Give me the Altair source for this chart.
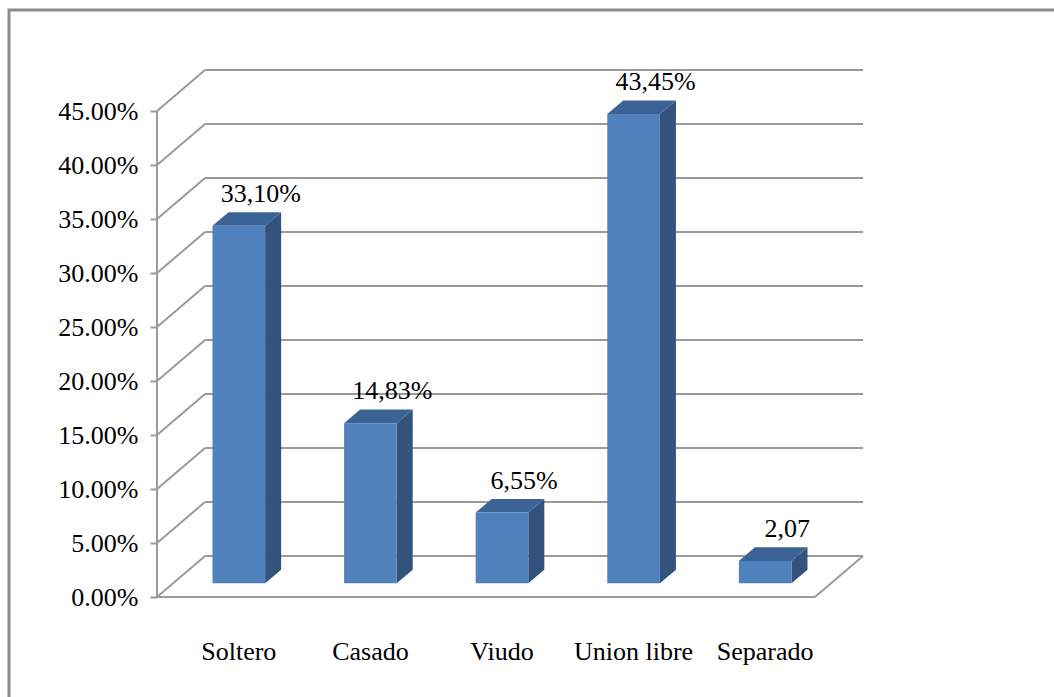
import altair as alt
import pandas as pd

# ---- data ----
categories = ["Soltero", "Casado", "Viudo", "Union libre", "Separado"]
values = [33.10, 14.83, 6.55, 43.45, 2.07]
value_labels = ["33,10%", "14,83%", "6,55%", "43,45%", "2,07"]
tick_values = [0, 5, 10, 15, 20, 25, 30, 35, 40, 45]

# ---- pseudo-3D geometry (in data units) ----
DX = 0.365      # full depth, horizontal component (category-slot units)
DY = 3.8        # full depth, vertical component (percent units)
ddx, ddy = DX / 3, DY / 3
BAR_W = 0.4     # bar width as fraction of slot
N = len(categories)

FONT = "Liberation Serif"
GRID = "#9a9a9a"
FRONT = "#4F81BD"
SIDE = "#33537D"
TOP = "#3C6395"

front_rows, side_rows, top_rows, lab_rows, cat_rows = [], [], [], [], []
for i, (c, v, lab) in enumerate(zip(categories, values, value_labels)):
    xl = i + 0.5 - BAR_W / 2 + ddx
    xr = i + 0.5 + BAR_W / 2 + ddx
    b, t = ddy, v + ddy
    front_rows.append(dict(cat=c, xl=xl, xr=xr, y0=b, y1=t))
    side_rows += [dict(cat=c, x=xr, lo=b, hi=t),
                  dict(cat=c, x=xr + ddx, lo=b + ddy, hi=t + ddy)]
    top_rows += [dict(cat=c, x=xl, lo=t, hi=t),
                 dict(cat=c, x=xl + ddx, lo=t, hi=t + ddy),
                 dict(cat=c, x=xr, lo=t, hi=t + ddy),
                 dict(cat=c, x=xr + ddx, lo=t + ddy, hi=t + ddy)]
    lab_rows.append(dict(cat=c, x=(xl + xr) / 2 + 0.5 * ddx, y=t + ddy, label=lab))
    cat_rows.append(dict(cat=c, x=i + 0.5 + ddx, y=0))

front = pd.DataFrame(front_rows)
side = pd.DataFrame(side_rows)
top = pd.DataFrame(top_rows)
labs = pd.DataFrame(lab_rows)
cats = pd.DataFrame(cat_rows)

grid = pd.DataFrame({"t": tick_values})
grid["xa"] = 0.0
grid["xb"] = DX
grid["xc"] = N + DX
grid["yb"] = grid["t"] + DY

floor = pd.DataFrame([
    dict(x=0.0, y=0.0, x2=float(N), y2=0.0),
    dict(x=float(N), y=0.0, x2=N + DX, y2=DY),
])
axis_line = pd.DataFrame([dict(x=0.0, y=0.0, y2=float(max(tick_values)))])

xs = alt.Scale(domain=[0, N + DX], nice=False, zero=False)
ys = alt.Scale(domain=[0, max(tick_values) + DY], nice=False, zero=False)

YAX = alt.Axis(
    values=tick_values, labelExpr="format(datum.value/100, '.2%')",
    domain=False, grid=False, tickColor=GRID, tickWidth=2, tickSize=7,
    labelFont=FONT, labelFontSize=26, labelColor="#000000",
    labelPadding=12, title=None)


def X(f):
    return alt.X(f, scale=xs, axis=None)


def Y(f):
    return alt.Y(f, scale=ys, axis=YAX)


# outer border frame
frame = alt.Chart(pd.DataFrame({"a": [0]})).mark_rect(
    fill=None, stroke="#8c8c8c", strokeWidth=3
).encode(x=alt.value(-148), x2=alt.value(1000), y=alt.value(-60), y2=alt.value(800))

# side-wall diagonals
diag = alt.Chart(grid).mark_rule(color=GRID, strokeWidth=2).encode(
    x=X("xa:Q"), y=Y("t:Q"), x2="xb:Q", y2="yb:Q")
# back-wall gridlines
back = alt.Chart(grid).mark_rule(color=GRID, strokeWidth=2).encode(
    x=X("xb:Q"), x2="xc:Q", y=Y("yb:Q"))
# floor edges
floor_l = alt.Chart(floor).mark_rule(color=GRID, strokeWidth=2).encode(
    x=X("x:Q"), y=Y("y:Q"), x2="x2:Q", y2="y2:Q")
# front vertical axis line
yaxis = alt.Chart(axis_line).mark_rule(color=GRID, strokeWidth=2).encode(
    x=X("x:Q"), y=Y("y:Q"), y2="y2:Q")

sides = alt.Chart(side).mark_area(color=SIDE).encode(
    x=X("x:Q"), y=Y("lo:Q"), y2="hi:Q", detail="cat:N")
tops = alt.Chart(top).mark_area(color=TOP).encode(
    x=X("x:Q"), y=Y("lo:Q"), y2="hi:Q", detail="cat:N")
fronts = alt.Chart(front).mark_rect(color=FRONT).encode(
    x=X("xl:Q"), x2="xr:Q", y=Y("y0:Q"), y2="y1:Q")

vlabels = alt.Chart(labs).mark_text(
    font=FONT, fontSize=26, color="#000000", baseline="alphabetic", dy=-10, dx=14
).encode(x=X("x:Q"), y=Y("y:Q"), text="label:N")
clabels = alt.Chart(cats).mark_text(
    font=FONT, fontSize=26, color="#000000", baseline="middle", dy=55
).encode(x=X("x:Q"), y=Y("y:Q"), text="cat:N")

chart = alt.layer(
    frame, diag, back, floor_l, yaxis, sides, tops, fronts, vlabels, clabels
).properties(
    width=706, height=527,
    autosize=alt.AutoSizeParams(type="none"),
    padding={"left": 157, "top": 70, "right": 191, "bottom": 100},
    background="white",
).configure_view(stroke=None)

chart.save("out.html", embed_options={"renderer": "svg", "actions": False})
